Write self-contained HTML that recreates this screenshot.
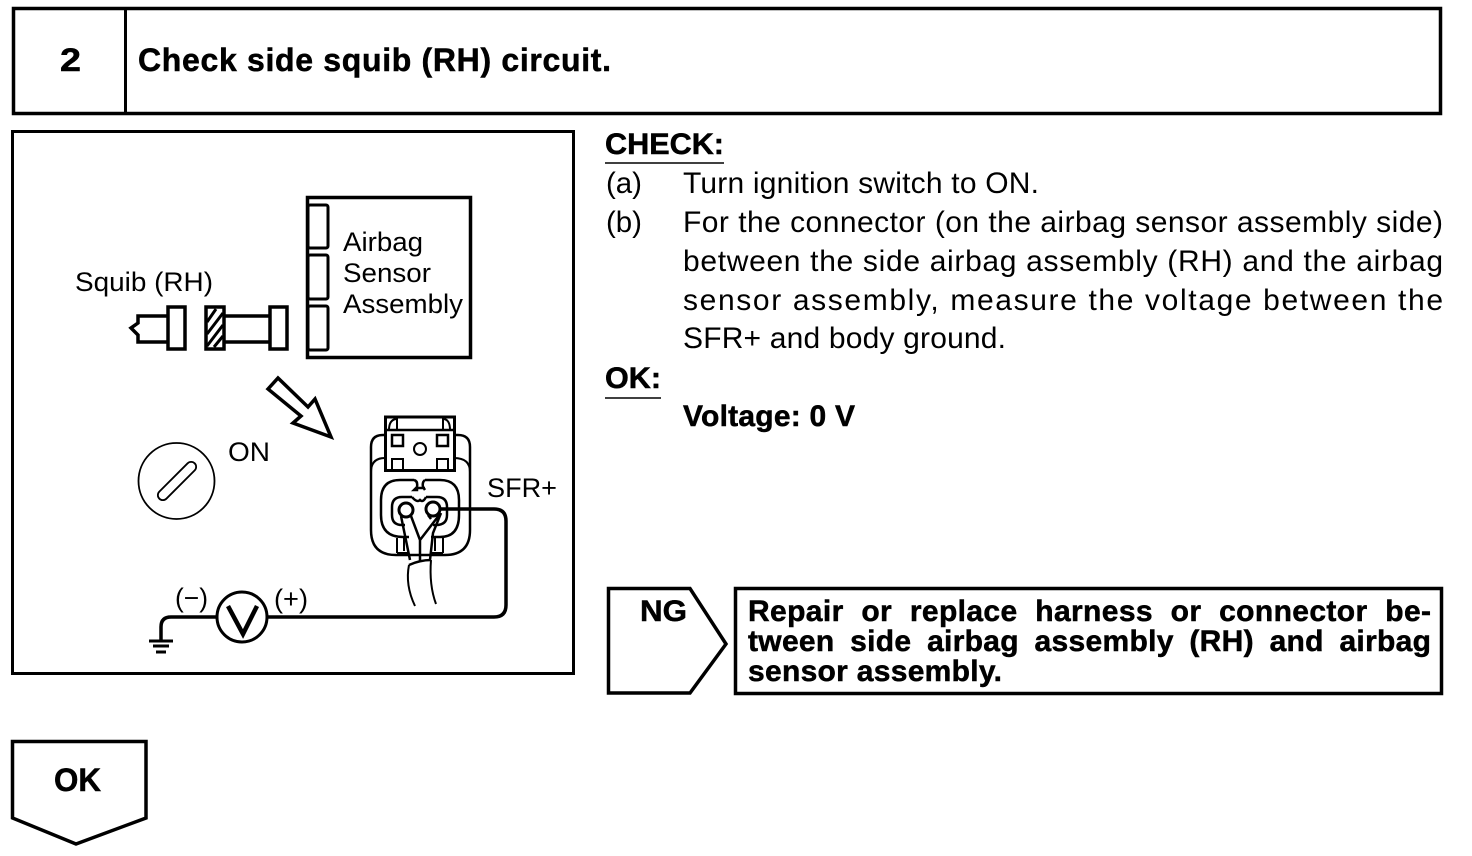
<!DOCTYPE html>
<html>
<head>
<meta charset="utf-8">
<style>
html,body{margin:0;padding:0;background:#fff;width:1472px;height:856px;overflow:hidden}
svg{display:block}
text{font-family:"Liberation Sans",sans-serif;fill:#000}
.b{font-weight:bold;stroke:#000;stroke-width:.5px}
.t{font-size:30px}
.d{font-size:27px}
.s{stroke:#000;fill:none}
</style>
</head>
<body>
<svg width="1472" height="856" viewBox="0 0 1472 856" xmlns="http://www.w3.org/2000/svg">
<!-- Header -->
<rect class="s" x="13.500" y="8.500" width="1427" height="105" stroke-width="3.500"/>
<line class="s" x1="125.500" y1="8" x2="125.500" y2="113" stroke-width="3"/>
<text class="b" x="60" y="71" font-size="32" textLength="21" lengthAdjust="spacingAndGlyphs">2</text>
<text class="b" x="138" y="71" font-size="32" textLength="473" lengthAdjust="spacing">Check side squib (RH) circuit.</text>

<!-- Diagram frame -->
<rect class="s" x="12.500" y="131.500" width="561" height="542" stroke-width="3"/>

<!-- Sensor assembly -->
<rect class="s" x="307.500" y="197.500" width="163" height="160" stroke-width="3.500"/>
<rect class="s" x="308" y="205" width="20" height="43" rx="2" stroke-width="3"/>
<rect class="s" x="308" y="255" width="20" height="44" rx="2" stroke-width="3"/>
<rect class="s" x="308" y="306" width="20" height="44" rx="2" stroke-width="3"/>
<text class="d" x="343" y="251" textLength="80" lengthAdjust="spacingAndGlyphs">Airbag</text>
<text class="d" x="343" y="282" textLength="88" lengthAdjust="spacingAndGlyphs">Sensor</text>
<text class="d" x="343" y="313" textLength="120" lengthAdjust="spacingAndGlyphs">Assembly</text>
<text class="d" x="75" y="291" textLength="138" lengthAdjust="spacingAndGlyphs">Squib (RH)</text>

<!-- Squib connector -->
<path class="s" stroke-width="3.500" d="M168 316H138V323L131 328L138 335V342H168"/>
<rect class="s" x="168" y="307" width="17" height="42" stroke-width="3.500"/>
<rect x="206" y="307" width="18" height="42" fill="#fff" stroke="#000" stroke-width="3.500"/>
<path class="s" stroke-width="3" d="M207 322L216 309M207 334L223 313M207 346L223 325M214 347L223 336"/>
<path class="s" stroke-width="3.500" d="M224 316H270M224 342H270"/>
<rect class="s" x="270" y="307" width="17" height="42" stroke-width="3.500"/>

<!-- Hollow arrow -->
<path class="s" stroke-width="3.500" stroke-linejoin="miter" d="M268 389L278 378L308 407L315 399L331 437L293 423L301 416Z"/>

<!-- Ignition -->
<circle class="s" cx="176.500" cy="481" r="38" stroke-width="1.800"/>
<rect class="s" x="-5" y="-25" width="10" height="50" rx="5" transform="translate(177 481) rotate(45)" stroke-width="1.800"/>
<text class="d" x="228" y="461" textLength="42" lengthAdjust="spacingAndGlyphs">ON</text>

<!-- Connector -->
<g class="s" stroke-width="2">
<path stroke-width="2.500" d="M385 435H383Q371 435 371 447V530Q371 555 396 555H445Q470 555 470 530V447Q470 435 458 435H454"/>
<path d="M371 472Q371 458 385 458M470 472Q470 458 454 458"/>
<rect x="385.500" y="417" width="69" height="53.500" stroke-width="3"/>
<path stroke-width="2.500" d="M385 430H454"/>
<path d="M397 418V430M443 418V430M389 430Q389 420 396 419M450 430Q450 420 444 419"/>
<rect x="392" y="435" width="11" height="11" stroke-width="2.500"/>
<rect x="437" y="435" width="11" height="11" stroke-width="2.500"/>
<circle cx="420" cy="449" r="6" stroke-width="2"/>
<rect x="392" y="459" width="11" height="11" stroke-width="2"/>
<rect x="437" y="459" width="11" height="11" stroke-width="2"/>
<path stroke-width="2.500" d="M414 480H400Q381 480 381 500V515Q381 537 403 537H409M425 480H440Q459 480 459 500V515Q459 537 440 537H431M414 480Q418 481 417 487L414 490H417V488H425M425 480Q422 482 423 487L425 490"/>
<path stroke-width="2.500" d="M412 497H402Q392 497 392 507V515Q392 525 402 525H405M426 497H437Q447 497 447 507V515Q447 525 436 525H433M412 497Q417 503 420 500Q423 503 426 497"/>
<circle cx="406" cy="510" r="7" fill="#fff" stroke-width="3"/>
<circle cx="433" cy="509" r="7" fill="#fff" stroke-width="3"/>
<path stroke-width="2.500" d="M401 516L410 560M411 516L420 540M440 514L420 540M428 515L431 519M420 540V561M430 560L433 533L441 513"/>
<path d="M397 538V553M443 538V553M404 538V551M435 538V551M397 553H409M431 553H443"/>
<path stroke-width="2.500" d="M409 565Q420 560 431 560"/>
<path d="M409 565Q405 585 415 606M431 560Q429 585 436 604"/>
</g>

<!-- Wiring -->
<path class="s" stroke-width="3.500" d="M441 509H494Q506 509 506 521V605Q506 617 494 617H268"/>
<path class="s" stroke-width="3.500" d="M217 617H171Q161 617 161 627V640"/>
<path class="s" stroke-width="3" d="M149 641H173M153 646H169M156 652H166"/>
<circle class="s" cx="242" cy="617" r="25" stroke-width="3"/>
<path class="s" stroke-width="4.500" d="M228 606L243 634L257 606"/>
<text class="d" x="175" y="607" textLength="33" lengthAdjust="spacingAndGlyphs">(−)</text>
<text class="d" x="274" y="608" textLength="34" lengthAdjust="spacingAndGlyphs">(+)</text>
<text class="d" x="487" y="497" textLength="70" lengthAdjust="spacingAndGlyphs">SFR+</text>

<!-- Right text -->
<text class="b t" x="605" y="154" textLength="119" lengthAdjust="spacingAndGlyphs">CHECK:</text>
<line class="s" x1="605" y1="163" x2="724" y2="163" stroke-width="1.500"/>
<text class="t" x="606" y="193" textLength="36" lengthAdjust="spacingAndGlyphs">(a)</text>
<text class="t" x="683" y="193" textLength="356" lengthAdjust="spacing">Turn ignition switch to ON.</text>
<text class="t" x="606" y="232" textLength="36" lengthAdjust="spacingAndGlyphs">(b)</text>
<text class="t" x="683" y="232" textLength="760" lengthAdjust="spacing">For the connector (on the airbag sensor assembly side)</text>
<text class="t" x="683" y="271" textLength="760" lengthAdjust="spacing">between the side airbag assembly (RH) and the airbag</text>
<text class="t" x="683" y="310" textLength="760" lengthAdjust="spacing">sensor assembly, measure the voltage between the</text>
<text class="t" x="683" y="348" textLength="323" lengthAdjust="spacing">SFR+ and body ground.</text>
<text class="b t" x="605" y="388" textLength="56" lengthAdjust="spacingAndGlyphs">OK:</text>
<line class="s" x1="605" y1="398" x2="661" y2="398" stroke-width="1.500"/>
<text class="b t" x="683" y="426" textLength="172" lengthAdjust="spacing">Voltage: 0 V</text>

<!-- NG -->
<path class="s" stroke-width="3.500" d="M608.500 588.500H690L726 644L690 693H608.500Z"/>
<text class="b t" x="640" y="621" textLength="47" lengthAdjust="spacingAndGlyphs">NG</text>
<rect class="s" x="735.500" y="588.500" width="706" height="105" stroke-width="3.500"/>
<text class="b t" x="748" y="621" textLength="683" lengthAdjust="spacing" style="word-spacing:9px">Repair or replace harness or connector be-</text>
<text class="b t" x="748" y="651" textLength="683" lengthAdjust="spacing" style="word-spacing:7px">tween side airbag assembly (RH) and airbag</text>
<text class="b t" x="748" y="681" textLength="254" lengthAdjust="spacing">sensor assembly.</text>

<!-- OK -->
<path class="s" stroke-width="3.500" d="M12.500 741.500H146V818L76 844L12.500 818Z"/>
<text class="b" x="54" y="791" font-size="32" textLength="47" lengthAdjust="spacingAndGlyphs">OK</text>
</svg>
</body>
</html>
